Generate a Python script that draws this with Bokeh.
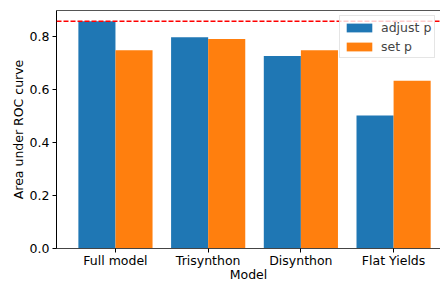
import numpy as np
from bokeh.plotting import figure
from bokeh.models import FixedTicker, Span, Legend, LegendItem, Range1d, LinearAxis
from bokeh.embed import file_html
from bokeh.resources import INLINE

categories = ["Full model", "Trisynthon", "Disynthon", "Flat Yields"]
adjust_p = [0.859, 0.799, 0.728, 0.503]
set_p = [0.750, 0.792, 0.750, 0.634]
y_ticks = [0.0, 0.2, 0.4, 0.6, 0.8]
y_tick_labels = ["0.0", "0.2", "0.4", "0.6", "0.8"]
best_auc = max(adjust_p)
x_title = "Model"
y_title = "Area under ROC curve"

FONT = "DejaVu Sans"
FS = "12.5px"

idx = np.arange(len(categories))
bw = 0.4

p = figure(width=440, height=284, output_backend="svg", toolbar_location=None,
           x_range=Range1d(-0.636, 3.506), y_range=Range1d(0, 0.9),
           min_border_left=56, min_border_right=0, min_border_top=10, min_border_bottom=0)
p.grid.visible = False
p.outline_line_color = None
p.background_fill_color = "white"
p.border_fill_color = "white"

r1 = p.vbar(x=idx - bw / 2, top=adjust_p, width=bw, bottom=0,
            fill_color="#1f77b4", line_color=None)
r2 = p.vbar(x=idx + bw / 2, top=set_p, width=bw, bottom=0,
            fill_color="#ff7f0e", line_color=None)

p.add_layout(Span(location=best_auc, dimension="width", line_color="#ff0000",
                  line_dash="5 2", line_width=1.5))

for ax in (p.xaxis[0], p.yaxis[0]):
    ax.major_label_text_font = FONT
    ax.major_label_text_font_size = FS
    ax.major_label_text_color = "black"
    ax.axis_label_text_font = FONT
    ax.axis_label_text_font_size = FS
    ax.axis_label_text_font_style = "normal"
    ax.axis_label_text_color = "black"
    ax.minor_tick_line_color = None
    ax.major_tick_out = 4
    ax.major_tick_in = 0
    ax.major_tick_line_color = "black"

p.xaxis.axis_line_color = "#444444"
p.yaxis.axis_line_color = "black"

p.xaxis.ticker = FixedTicker(ticks=list(idx))
p.xaxis.major_label_overrides = {int(i): c for i, c in zip(idx, categories)}
p.xaxis.axis_label = x_title
p.xaxis.major_label_standoff = 0
p.xaxis.axis_label_standoff = -4

p.yaxis.ticker = FixedTicker(ticks=y_ticks)
p.yaxis.major_label_overrides = {t: l for t, l in zip(y_ticks, y_tick_labels)}
p.yaxis.axis_label = y_title
p.yaxis.major_label_standoff = 3
p.yaxis.axis_label_standoff = 1

# top spine
top_axis = LinearAxis(ticker=FixedTicker(ticks=[]), axis_line_color="#555555",
                      major_tick_line_color=None, minor_tick_line_color=None,
                      major_label_text_font_size="0px")
p.add_layout(top_axis, "above")

legend = Legend(items=[LegendItem(label="adjust p", renderers=[r1]),
                       LegendItem(label="set p", renderers=[r2])],
                location=(283, 190))
legend.label_text_font = FONT
legend.label_text_font_size = FS
legend.glyph_width = 32
legend.glyph_height = 11
legend.label_height = 16
legend.spacing = 3
legend.padding = 3
legend.margin = 0
legend.label_standoff = 6
legend.border_line_color = "#cccccc"
legend.border_line_width = 1
legend.background_fill_alpha = 0.8
p.add_layout(legend)

open("out.html", "w").write(file_html(p, INLINE))
